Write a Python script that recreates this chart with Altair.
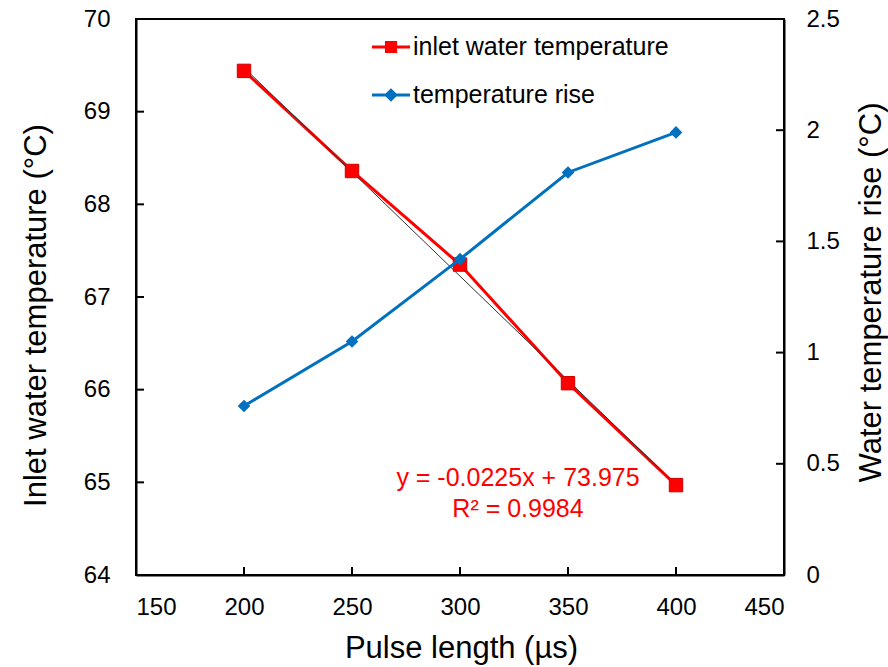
import altair as alt
import pandas as pd

# Measured series
pulse_us = [200, 250, 300, 350, 400]
inlet_temp_c = [69.44, 68.36, 67.35, 66.07, 64.97]
temp_rise_c = [0.76, 1.05, 1.42, 1.81, 1.99]

series_names = ["inlet water temperature", "temperature rise"]
series_colors = ["#FF0000", "#0070C0"]

# Linear trend of the inlet temperature
fit_slope = -0.0225
fit_intercept = 73.975
fit_r2 = 0.9984

x_ticks = [150, 200, 250, 300, 350, 400, 450]
left_ticks = [64, 65, 66, 67, 68, 69, 70]
right_ticks = [0, 0.5, 1, 1.5, 2, 2.5]

FONT = "Liberation Sans"
TITLE_SIZE = 31
W, H = 648, 556

inlet_df = pd.DataFrame({"pulse": pulse_us, "value": inlet_temp_c})
rise_df = pd.DataFrame({"pulse": pulse_us, "value": temp_rise_c})
trend_x = [min(pulse_us), max(pulse_us)]
trend_df = pd.DataFrame({"pulse": trend_x,
                         "value": [fit_slope * v + fit_intercept for v in trend_x]})
xtick_df = pd.DataFrame({"pulse": x_ticks})
ltick_df = pd.DataFrame({"value": left_ticks})
rtick_df = pd.DataFrame({"value": right_ticks})
legend_df = pd.DataFrame({"series": series_names})
eq_df = pd.DataFrame({"label": [f"y = {fit_slope}x + {fit_intercept}"]})
r2_df = pd.DataFrame({"label": [f"R\u00b2 = {fit_r2}"]})

X = alt.X(
    "pulse:Q",
    scale=alt.Scale(domain=[150, 450], nice=False, zero=False),
    axis=alt.Axis(
        values=x_ticks, title="Pulse length (\u00b5s)", grid=False, ticks=False, tickSize=0,
        labelFontSize=24, labelPadding=20, labelFont=FONT, labelColor="black",
        titleFont=FONT, titleFontSize=TITLE_SIZE, titleFontWeight="normal", titleColor="black",
        titleX=325, titleY=82, titleBaseline="alphabetic", titleAlign="center",
    ),
)

Y_left = alt.Y(
    "value:Q",
    scale=alt.Scale(domain=[64, 70], nice=False, zero=False),
    axis=alt.Axis(
        orient="left", values=left_ticks, title="Inlet water temperature  (\u00b0C)",
        grid=False, ticks=False, tickSize=0,
        labelFontSize=24, labelPadding=26, labelFont=FONT, labelColor="black",
        titleFont=FONT, titleFontSize=TITLE_SIZE, titleFontWeight="normal", titleColor="black",
        titleAngle=270, titleX=-91, titleY=296, titleBaseline="alphabetic", titleAlign="center",
        titleLimit=0,
    ),
)

Y_right = alt.Y(
    "value:Q",
    scale=alt.Scale(domain=[0, 2.5], nice=False, zero=False),
    axis=alt.Axis(
        orient="right", values=right_ticks, format="~g", title="Water temperature rise (\u00b0C)",
        grid=False, ticks=False, tickSize=0,
        labelFontSize=24, labelPadding=22, labelFont=FONT, labelColor="black",
        titleFont=FONT, titleFontSize=TITLE_SIZE, titleFontWeight="normal", titleColor="black",
        titleAngle=270, titleX=96, titleY=273, titleBaseline="alphabetic", titleAlign="center",
        titleLimit=0,
    ),
)

# Legend symbols: a line segment with the series marker on it
sym_square = ("M-1,-0.08L1,-0.08L1,0.08L-1,0.08Z "
              "M-0.32,-0.32L0.32,-0.32L0.32,0.32L-0.32,0.32Z")
sym_diamond = ("M-1,-0.08L1,-0.08L1,0.08L-1,0.08Z "
               "M0,-0.36L0.36,0L0,0.36L-0.36,0Z")

legend = alt.Legend(
    title=None, orient="none", legendX=236, legendY=9, padding=0,
    labelFont=FONT, labelFontSize=25, labelColor="black", labelOffset=3, labelLimit=0,
    symbolSize=1444, symbolOpacity=1, symbolStrokeWidth=0, rowPadding=16,
)

legend_layer = alt.Chart(legend_df).mark_point(filled=True, opacity=0).encode(
    color=alt.Color("series:N", scale=alt.Scale(domain=series_names, range=series_colors),
                    legend=legend),
    shape=alt.Shape("series:N", scale=alt.Scale(domain=series_names,
                                                range=[sym_square, sym_diamond]),
                    legend=legend),
)

red_line = alt.Chart(inlet_df).mark_line(color="#FF0000", strokeWidth=3).encode(x=X, y=Y_left)
red_pts = alt.Chart(inlet_df).mark_point(
    shape="square", filled=True, size=180, color="#FF0000", opacity=1,
    stroke="#D00000", strokeWidth=1,
).encode(x=X, y=Y_left)
trend = alt.Chart(trend_df).mark_line(color="#333333", strokeWidth=1).encode(x=X, y=Y_left)

xticks = alt.Chart(xtick_df).mark_rule(color="black", strokeWidth=2).encode(
    x=X, y=alt.value(H), y2=alt.value(H - 8))
lticks = alt.Chart(ltick_df).mark_rule(color="black", strokeWidth=2).encode(
    y=Y_left, x=alt.value(0), x2=alt.value(8))

eq_text = alt.Chart(eq_df).mark_text(
    font=FONT, fontSize=25, color="#FF0000", align="center", baseline="middle"
).encode(x=alt.value(382), y=alt.value(459), text="label:N")
r2_text = alt.Chart(r2_df).mark_text(
    font=FONT, fontSize=25, color="#FF0000", align="center", baseline="middle"
).encode(x=alt.value(382), y=alt.value(490), text="label:N")

left_group = alt.layer(red_line, trend, red_pts, xticks, lticks, eq_text, r2_text, legend_layer)

blue_line = alt.Chart(rise_df).mark_line(color="#0070C0", strokeWidth=3).encode(x=X, y=Y_right)
blue_pts = alt.Chart(rise_df).mark_point(
    shape="diamond", filled=True, size=160, color="#0070C0", opacity=1
).encode(x=X, y=Y_right)
rticks = alt.Chart(rtick_df).mark_rule(color="black", strokeWidth=2).encode(
    y=Y_right, x=alt.value(W - 8), x2=alt.value(W))

right_group = alt.layer(blue_line, blue_pts, rticks)

chart = (
    alt.layer(left_group, right_group)
    .resolve_scale(y="independent")
    .properties(
        width=W, height=H,
        autosize=alt.AutoSizeParams(type="none"),
        padding={"left": 136, "top": 19, "right": 104, "bottom": 92},
        background="white",
    )
    .configure_view(stroke="black", strokeWidth=2)
    .configure_axis(domainColor="black", domainWidth=2)
)

chart.save("out.html", embed_options={"renderer": "svg", "actions": False})
